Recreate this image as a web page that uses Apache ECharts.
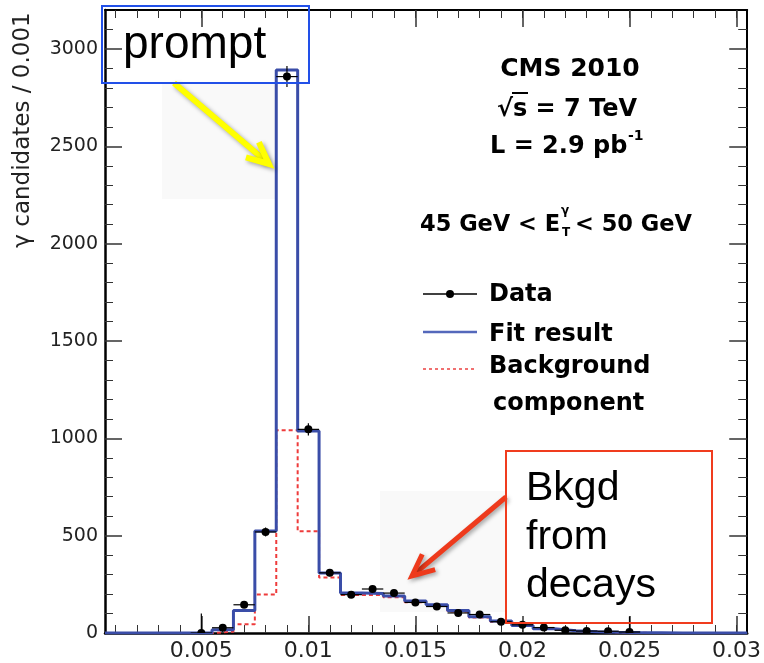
<!DOCTYPE html>
<html>
<head>
<meta charset="utf-8">
<script src="https://cdn.jsdelivr.net/npm/echarts@6/dist/echarts.min.js"></script>
<style>
  html, body { margin: 0; padding: 0; background: #ffffff; }
  #chart { width: 764px; height: 663px; }
</style>
</head>
<body>
<div id="chart"></div>
<script>
// ---- Histogram content: bins of width 0.001 centred on 0.001 ... 0.030 ----
const binWidth = 0.001;
const binCenters = [
  0.001, 0.002, 0.003, 0.004, 0.005, 0.006, 0.007, 0.008, 0.009, 0.010,
  0.011, 0.012, 0.013, 0.014, 0.015, 0.016, 0.017, 0.018, 0.019, 0.020,
  0.021, 0.022, 0.023, 0.024, 0.025, 0.026, 0.027, 0.028, 0.029, 0.030
];
// Observed candidates per bin (null: bin not drawn)
const dataCounts = [
  null, null, null, null, 0, 27, 145, 519, 2858, 1046,
  309, 197, 226, 205, 157, 136, 103, 95, 58, 42,
  28, 14, 10, 9, 5, null, null, null, null, null
];
// Statistical uncertainty per bin
const dataErrors = [
  null, null, null, null, 100, 6, 13, 23, 54, 32,
  18, 14, 15, 14, 12, 12, 10, 10, 8, 7,
  6, 4, 3, 3, 80, null, null, null, null, null
];
// Total fit (signal + background)
const fitTotal = [
  0, 0, 0, 0, 0, 17, 115, 524, 2892, 1038,
  308, 205, 203, 190, 165, 145, 115, 84, 62, 38,
  22, 12, 7, 4, 2, 1, 0, 0, 0, 0
];
// Background component of the fit
const fitBackground = [
  0, 0, 0, 0, 0, 7, 45, 198, 1041, 522,
  285, 195, 195, 183, 158, 140, 110, 80, 58, 36,
  20, 11, 6, 3, 1, 0, 0, 0, 0, 0
];

// ---- Axis ticks and labels ----
const xMajorTicks = [0.005, 0.010, 0.015, 0.020, 0.025, 0.030];
const xTickLabels = ['0.005', '0.01', '0.015', '0.02', '0.025', '0.03'];
const xMinorTicks = binCenters;
const yMajorTicks = [0, 500, 1000, 1500, 2000, 2500, 3000];
const yTickLabels = ['0', '500', '1000', '1500', '2000', '2500', '3000'];
const yMinorTicks = [
  100, 200, 300, 400, 600, 700, 800, 900, 1100, 1200, 1300, 1400,
  1600, 1700, 1800, 1900, 2100, 2200, 2300, 2400, 2600, 2700, 2800, 2900, 3100
];
const xRange = [0.0005, 0.0305];
const yRange = [0, 3200];

// ---- Styling ----
const ROOT_FONT = "'DejaVu Sans', 'Noto Sans', sans-serif";
const SLIDE_FONT = "'Liberation Sans', Arial, sans-serif";
const FIT_COLOR = '#3a4da8';
const BKG_COLOR = '#ee3b3b';

// Step outline of a histogram: two points per bin (low edge, high edge)
function stepPoints(values) {
  const pts = [];
  binCenters.forEach((c, i) => {
    pts.push([c - binWidth / 2, values[i]]);
    pts.push([c + binWidth / 2, values[i]]);
  });
  return pts;
}

const dataPoints = [];
binCenters.forEach((c, i) => {
  if (dataCounts[i] !== null) dataPoints.push([c, dataCounts[i], dataErrors[i]]);
});

function labelFor(values, labels) {
  return function (v) {
    for (let i = 0; i < values.length; i++) {
      if (Math.abs(values[i] - v) < 1e-9) return labels[i];
    }
    return '';
  };
}

function xAxisDef(position, ticks, len, showLine, showLabels) {
  return {
    type: 'value', position: position, min: xRange[0], max: xRange[1],
    splitLine: { show: false },
    axisLine: { show: showLine, onZero: false, lineStyle: { color: '#000', width: position === 'bottom' ? 2.5 : 2 } },
    axisTick: { show: true, inside: true, length: len, customValues: ticks,
      lineStyle: { color: '#333', width: len > 10 ? 1.5 : 1 } },
    axisLabel: showLabels ? {
      show: true, customValues: xMajorTicks, margin: 7,
      fontFamily: ROOT_FONT, fontSize: 22, color: '#222',
      formatter: labelFor(xMajorTicks, xTickLabels)
    } : { show: false }
  };
}

function yAxisDef(position, ticks, len, showLine, showLabels) {
  return {
    type: 'value', position: position, min: yRange[0], max: yRange[1],
    splitLine: { show: false },
    axisLine: { show: showLine, onZero: false, lineStyle: { color: '#000', width: position === 'left' ? 2.5 : 2 } },
    axisTick: { show: true, inside: true, length: len, customValues: ticks,
      lineStyle: { color: '#333', width: len > 10 ? 1.5 : 1 } },
    axisLabel: showLabels ? {
      show: true, customValues: yMajorTicks, margin: 7,
      fontFamily: ROOT_FONT, fontSize: 19, color: '#222',
      formatter: labelFor(yMajorTicks, yTickLabels)
    } : { show: false }
  };
}

// Arrow with a chevron head, computed from tail and tip points
function arrow(tail, tip, color, width, z) {
  const a = Math.atan2(tail[1] - tip[1], tail[0] - tip[0]);
  const arm = 24, spread = 0.43;
  const p1 = [tip[0] + arm * Math.cos(a + spread), tip[1] + arm * Math.sin(a + spread)];
  const p2 = [tip[0] + arm * Math.cos(a - spread), tip[1] + arm * Math.sin(a - spread)];
  const style = {
    stroke: color, lineWidth: width, fill: null, lineJoin: 'miter', lineCap: 'butt',
    shadowBlur: 4, shadowColor: 'rgba(0,0,0,0.35)', shadowOffsetX: 2, shadowOffsetY: 2
  };
  return [
    { type: 'polyline', z: z, shape: { points: [tail, [tip[0] + 3 * Math.cos(a), tip[1] + 3 * Math.sin(a)]] }, style: style },
    { type: 'polyline', z: z, shape: { points: [p1, tip, p2] }, style: style }
  ];
}

function txt(x, y, text, size, opts) {
  opts = opts || {};
  return {
    type: 'text', z: 100, x: x, y: y, rotation: opts.rotation || 0,
    style: {
      text: text, fontFamily: opts.family || ROOT_FONT, fontSize: size,
      fontWeight: opts.bold === false ? 'normal' : 'bold',
      fill: opts.color || '#000', align: opts.align || 'left', verticalAlign: 'middle'
    }
  };
}

const chart = echarts.init(document.getElementById('chart'), null, { renderer: 'canvas' });

const graphics = [
  // soft backgrounds behind the pasted arrows
  { type: 'rect', z: 0, shape: { x: 162, y: 82, width: 115, height: 117 }, style: { fill: '#f9f9f9' } },
  { type: 'rect', z: 0, shape: { x: 380, y: 491, width: 127, height: 121 }, style: { fill: '#f9f9f9' } },

  // y-axis title
  txt(23, 130, 'γ candidates / 0.001', 23, { rotation: Math.PI / 2, align: 'center', bold: false, color: '#222' }),

  // experiment labels
  txt(570, 69.7, 'CMS 2010', 25, { align: 'center' }),
  txt(567, 110, '√s = 7 TeV', 24, { align: 'center' }),
  { type: 'line', z: 100, shape: { x1: 512, y1: 93, x2: 528, y2: 93 }, style: { stroke: '#000', lineWidth: 2 } },
  txt(490, 146.7, 'L = 2.9 pb', 24),
  txt(628, 136.5, '-1', 14),
  txt(420, 225.5, '45 GeV < E', 22.5),
  txt(561, 211, 'γ', 12),
  txt(562, 233, 'T', 12),
  txt(575, 225.5, '< 50 GeV', 22.5),

  // legend
  { type: 'line', z: 100, shape: { x1: 423, y1: 294, x2: 477, y2: 294 }, style: { stroke: '#000', lineWidth: 1.5 } },
  { type: 'circle', z: 100, shape: { cx: 450, cy: 294, r: 4 }, style: { fill: '#000' } },
  txt(489, 295, 'Data', 24),
  { type: 'line', z: 100, shape: { x1: 423, y1: 332, x2: 477, y2: 332 }, style: { stroke: '#5468bb', lineWidth: 2.5 } },
  txt(489, 334.7, 'Fit result', 24),
  { type: 'line', z: 100, shape: { x1: 423, y1: 369, x2: 477, y2: 369 }, style: { stroke: '#f07070', lineWidth: 2, lineDash: [3, 3] } },
  txt(489, 367, 'Background', 24),
  txt(493, 403.7, 'component', 24),

  // "prompt" call-out
  { type: 'rect', z: 100, shape: { x: 102, y: 6, width: 207, height: 77 }, style: { fill: null, stroke: '#2250e8', lineWidth: 2 } },
  txt(123, 45.8, 'prompt', 46, { family: SLIDE_FONT, bold: false }),

  // "Bkgd from decays" call-out
  { type: 'rect', z: 100, shape: { x: 506, y: 451, width: 206, height: 172 }, style: { fill: null, stroke: '#f03c1e', lineWidth: 2 } },
  txt(526, 488.5, 'Bkgd', 41, { family: SLIDE_FONT, bold: false }),
  txt(526, 537.5, 'from', 41, { family: SLIDE_FONT, bold: false }),
  txt(526, 585.8, 'decays', 41, { family: SLIDE_FONT, bold: false })
].concat(
  arrow([174, 83], [269, 164], '#ffff00', 6, 90),
  arrow([506, 497], [412, 576], '#ee3a1c', 5, 90)
);

chart.setOption({
  animation: false,
  backgroundColor: '#ffffff',
  grid: { left: 105, right: 12, top: 10, bottom: 30 },
  xAxis: [
    xAxisDef('bottom', xMajorTicks, 17, true, true),
    xAxisDef('bottom', xMinorTicks, 8, false, false),
    xAxisDef('top', xMajorTicks, 17, true, false),
    xAxisDef('top', xMinorTicks, 8, false, false)
  ],
  yAxis: [
    yAxisDef('left', yMajorTicks, 17, true, true),
    yAxisDef('left', yMinorTicks, 8, false, false),
    yAxisDef('right', yMajorTicks, 18, true, false),
    yAxisDef('right', yMinorTicks, 9, false, false)
  ],
  series: [
    {
      name: 'Background component', type: 'line', xAxisIndex: 0, yAxisIndex: 0,
      data: stepPoints(fitBackground), showSymbol: false, z: 3,
      lineStyle: { color: BKG_COLOR, width: 2, type: [4, 3] }
    },
    {
      name: 'Fit result', type: 'line', xAxisIndex: 0, yAxisIndex: 0,
      data: stepPoints(fitTotal), showSymbol: false, z: 4,
      lineStyle: { color: FIT_COLOR, width: 3 }
    },
    {
      name: 'Data', type: 'custom', xAxisIndex: 0, yAxisIndex: 0, z: 5, clip: true,
      data: dataPoints,
      renderItem: function (params, api) {
        const x = api.value(0), y = api.value(1), e = api.value(2);
        const c = api.coord([x, y]);
        const lo = api.coord([x - binWidth / 2, y]);
        const hi = api.coord([x + binWidth / 2, y]);
        const top = api.coord([x, y + e]);
        const bot = api.coord([x, y - e]);
        return {
          type: 'group',
          children: [
            { type: 'line', shape: { x1: lo[0], y1: c[1], x2: hi[0], y2: c[1] }, style: { stroke: '#000', lineWidth: 1.2 } },
            { type: 'line', shape: { x1: c[0], y1: top[1], x2: c[0], y2: bot[1] }, style: { stroke: '#000', lineWidth: 1.2 } },
            { type: 'circle', shape: { cx: c[0], cy: c[1], r: 4 }, style: { fill: '#000' } }
          ]
        };
      }
    }
  ],
  graphic: graphics
});
</script>
</body>
</html>
